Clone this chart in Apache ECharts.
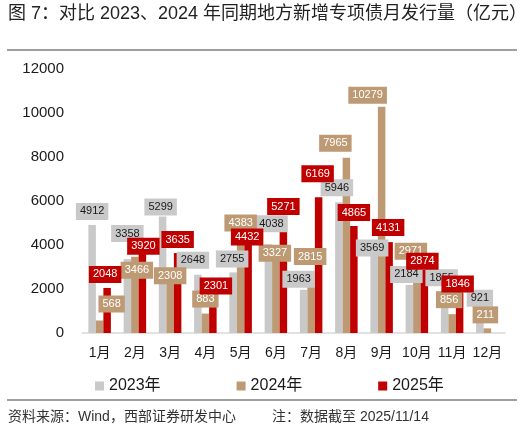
<!DOCTYPE html>
<html>
<head>
<meta charset="utf-8">
<script src="https://cdn.jsdelivr.net/npm/echarts@6/dist/echarts.min.js"></script>
<style>
  html, body { margin: 0; padding: 0; background: #fff; }
  #chart { width: 527px; height: 429px; }
</style>
</head>
<body>
<div id="chart"></div>
<script>
// 月份与数据（亿元）
var months = ['1月', '2月', '3月', '4月', '5月', '6月', '7月', '8月', '9月', '10月', '11月', '12月'];
var y2023 = [4912, 3358, 5299, 2648, 2755, 4038, 1963, 5946, 3569, 2184, 1855, 921];
var y2024 = [568, 3466, 2308, 883, 4383, 3327, 2815, 7965, 10279, 2971, 856, 211];
var y2025 = [2048, 3920, 3635, 2301, 4432, 5271, 6169, 4865, 4131, 2874, 1846];
var yTicks = [0, 2000, 4000, 6000, 8000, 10000, 12000];

// 数据标签的手动偏移 [dx, dy]，原图的标签是手动拖过的
var nudge2023 = [[0, -5], [0, -17], [-2, -1], [-5, -6], [-1, -5], [3, -12], [-5, -2], [-2, -6], [-2, 2], [-3, -2], [-3, -6], [0, -6]];
var nudge2024 = [[12, -8], [2, 22], [0, 2], [0, -6], [0, -5], [-1, 2], [-1, -6], [-11, -6], [-14, -3], [-6, -8], [-3, -6], [-2, -5]];
var nudge2025 = [[-2, -5], [1, 8], [0, -5], [3, 12], [-1, 10], [0, -2], [-1, -15], [0, -5], [-1, -6], [-2, 0], [-2, 0]];

var FONT = "'Liberation Sans', Arial, 'Noto Sans CJK SC', sans-serif";

function buildData(vals, nudges) {
	var out = [];
	for (var i = 0; i < vals.length; i++) {
		out.push({
			value: vals[i],
			label: { offset: nudges[i] }
		});
	}
	return out;
}

function barSeries(name, vals, nudges, color, textColor) {
	return {
		name: name,
		type: 'bar',
		barWidth: 7.5,
		barGap: '0%',
		itemStyle: { color: color },
		data: buildData(vals, nudges),
		label: {
			show: true,
			position: 'top',
			distance: 0,
			fontFamily: FONT,
			fontSize: 11,
			lineHeight: 13,
			color: textColor,
			backgroundColor: color,
			padding: [2, 4]
		}
	};
}

var myChart = echarts.init(document.getElementById('chart'), null, { renderer: 'canvas' });

var option = {
	animation: false,
	backgroundColor: '#fff',
	textStyle: { fontFamily: FONT },
	grid: { left: 82, right: 22, top: 69, bottom: 96, containLabel: false },
	legend: {
		data: ['2023年', '2024年', '2025年'],
		left: 95,
		top: 378,
		padding: 0,
		itemWidth: 9,
		itemHeight: 9,
		itemGap: 76,
		icon: 'rect',
		textStyle: { fontFamily: FONT, fontSize: 16, color: '#1a1a1a' }
	},
	xAxis: {
		type: 'category',
		data: months,
		axisLine: { lineStyle: { color: '#d9d9d9', width: 1.5 } },
		axisTick: { show: false },
		axisLabel: { interval: 0, margin: 13, fontFamily: FONT, fontSize: 14, color: '#1a1a1a' }
	},
	yAxis: {
		type: 'value',
		min: yTicks[0],
		max: yTicks[yTicks.length - 1],
		interval: 2000,
		axisLine: { show: false },
		axisTick: { show: false },
		splitLine: { show: false },
		axisLabel: {
			margin: 18, fontFamily: FONT, fontSize: 15, color: '#1a1a1a',
			formatter: function (v) { return String(v); }
		}
	},
	series: [
		barSeries('2023年', y2023, nudge2023, '#c9c9c9', '#1a1a1a'),
		barSeries('2024年', y2024, nudge2024, '#bd9a73', '#ffffff'),
		barSeries('2025年', y2025, nudge2025, '#c00000', '#ffffff')
	],
	graphic: [
		{
			type: 'text', left: 8, top: 5,
			style: { text: '图 7：对比 2023、2024 年同期地方新增专项债月发行量（亿元）', font: '18px ' + FONT, fill: '#222' }
		},
		{
			type: 'line', shape: { x1: 7, y1: 50, x2: 517, y2: 50 },
			style: { stroke: '#7f7f7f', lineWidth: 1.5 }
		},
		{
			type: 'line', shape: { x1: 7, y1: 400, x2: 517, y2: 400 },
			style: { stroke: '#7f7f7f', lineWidth: 1.5 }
		},
		{
			type: 'text', left: 8, top: 410,
			style: { text: '资料来源：Wind，西部证券研发中心', font: '14px ' + FONT, fill: '#333' }
		},
		{
			type: 'text', left: 272, top: 410,
			style: { text: '注：数据截至 2025/11/14', font: '14px ' + FONT, fill: '#333' }
		}
	]
};

myChart.setOption(option);
</script>
</body>
</html>
